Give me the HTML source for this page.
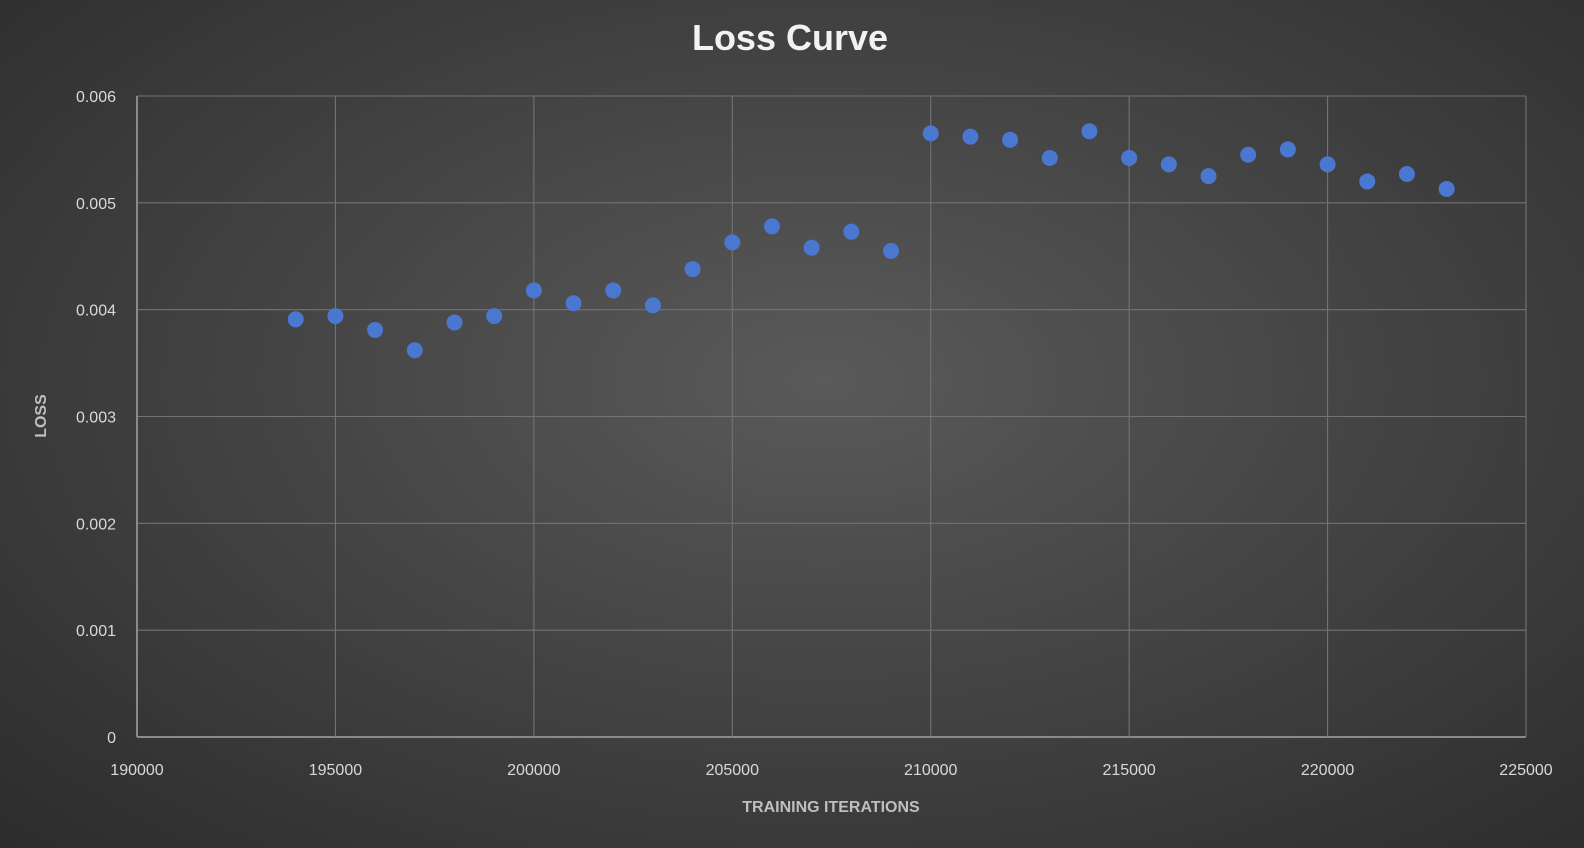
<!DOCTYPE html>
<html><head><meta charset="utf-8"><style>
html,body{margin:0;padding:0;width:1584px;height:848px;overflow:hidden;}
body{background:radial-gradient(ellipse at 52% 45%, #5a5a5a 0%, #474747 40%, #2c2c2c 100%);font-family:"Liberation Sans",sans-serif;}
svg{position:absolute;left:0;top:0;}
</style></head><body>
<svg id="chart" width="1584" height="848" xmlns="http://www.w3.org/2000/svg"></svg>
<script>
const iterations=[194000,195000,196000,197000,198000,199000,200000,201000,202000,203000,204000,205000,206000,207000,208000,209000,210000,211000,212000,213000,214000,215000,216000,217000,218000,219000,220000,221000,222000,223000];
const lossValues=[0.00391,0.00394,0.00381,0.00362,0.00388,0.00394,0.00418,0.00406,0.00418,0.00404,0.00438,0.00463,0.00478,0.00458,0.00473,0.00455,0.00565,0.00562,0.00559,0.00542,0.00567,0.00542,0.00536,0.00525,0.00545,0.00550,0.00536,0.00520,0.00527,0.00513];
const xTicks=[190000,195000,200000,205000,210000,215000,220000,225000];
const yTicks=[0,0.001,0.002,0.003,0.004,0.005,0.006];
const yTickLabels=["0","0.001","0.002","0.003","0.004","0.005","0.006"];

const L=137,R=1526,T=96,B=737;
const xMin=190000,xMax=225000,yMin=0,yMax=0.006;
const sx=v=>L+(v-xMin)/(xMax-xMin)*(R-L);
const sy=v=>B-(v-yMin)/(yMax-yMin)*(B-T);
const svg=document.getElementById('chart');
const NS='http://www.w3.org/2000/svg';
function mk(tag,attrs,parent){const e=document.createElementNS(NS,tag);for(const k in attrs)e.setAttribute(k,attrs[k]);(parent||svg).appendChild(e);return e;}

const title=mk('text',{x:790,y:50,'text-anchor':'middle','font-size':36,'font-weight':'bold',fill:'#f2f2f2'});
title.textContent='Loss Curve';



const grid=mk('g',{});


yTicks.forEach((t,i)=>{
  const y=sy(t);
  const ln=mk('line',{x1:L,x2:R,y1:y,y2:y,stroke:i===0?'#8a8a8a':'#737373','stroke-width':i===0?2:1.1},grid);
  
  
  const tx=mk('text',{x:116,y:y+6,'text-anchor':'end','font-size':16,fill:'#d9d9d9'});
  tx.textContent=yTickLabels[i];
  
  
});
xTicks.forEach((t,i)=>{
  const x=sx(t);
  const ln=mk('line',{x1:x,x2:x,y1:T,y2:B,stroke:i===0?'#8a8a8a':'#737373','stroke-width':i===0?2:1.1},grid);
  
  
  const tx=mk('text',{x:x,y:775,'text-anchor':'middle','font-size':16,fill:'#d9d9d9'});
  tx.textContent=String(t);
  
  
});

const xt=mk('text',{x:831,y:812,'text-anchor':'middle','font-size':16,'font-weight':'bold',fill:'#bfbfbf'});
xt.textContent='TRAINING ITERATIONS';


const yt=mk('text',{x:0,y:0,'text-anchor':'middle','font-size':16,'font-weight':'bold',fill:'#bfbfbf',transform:'translate(46,416) rotate(-90)'});
yt.textContent='LOSS';



const pts=mk('g',{});


iterations.forEach((it,i)=>{
  const c=mk('circle',{cx:sx(it),cy:sy(lossValues[i]),r:8,fill:'#4a78d0'},pts);
  
  
});
</script>
</body></html>
